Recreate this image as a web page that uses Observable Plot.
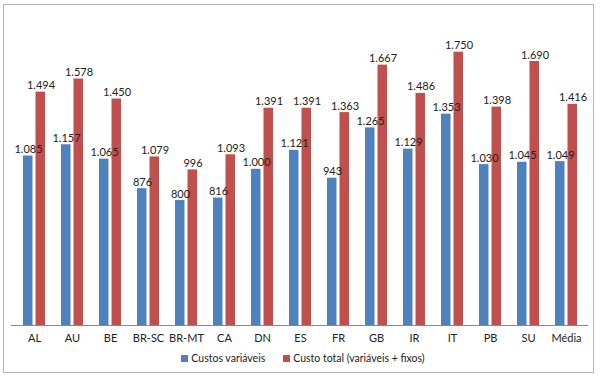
<!DOCTYPE html>
<html>
<head>
<meta charset="utf-8">
<script src="https://cdn.jsdelivr.net/npm/d3@7"></script>
<script src="https://cdn.jsdelivr.net/npm/@observablehq/plot@0.6"></script>
<style>
  html, body { margin: 0; padding: 0; background: #fff; }
  #wrap { position: relative; width: 600px; height: 377px; font-family: Lato, "Open Sans", sans-serif; }
  #frame { position: absolute; left: 3px; top: 4px; width: 589px; height: 367px; border: 1.5px solid #b5b5b5; box-sizing: content-box; }
  #chart { position: absolute; left: 0; top: 0; }
  #legend { position: absolute; left: 0; top: 352px; width: 606px; display: flex; justify-content: center; gap: 18px; font-size: 10.5px; color: #222; }
  #legend span.sw { display: inline-block; width: 7px; height: 7px; margin-right: 3px; vertical-align: 0px; }
</style>
</head>
<body>
<div id="wrap">
  <div id="frame"></div>
  <div id="chart"></div>
  <div id="legend"></div>
</div>
<script>
const categories = ["AL", "AU", "BE", "BR-SC", "BR-MT", "CA", "DN", "ES", "FR", "GB", "IR", "IT", "PB", "SU", "Média"];
const custosVariaveis = [1085, 1157, 1065, 876, 800, 816, 1000, 1121, 943, 1265, 1129, 1353, 1030, 1045, 1049];
const custoTotal = [1494, 1578, 1450, 1079, 996, 1093, 1391, 1391, 1363, 1667, 1486, 1750, 1398, 1690, 1416];
const seriesNames = ["Custos variáveis", "Custo total (variáveis + fixos)"];
const seriesColors = ["#4f81bd", "#c0504d"];

const fmt = d3.formatLocale({decimal: ",", thousands: ".", grouping: [3], currency: ["", ""]}).format(",");

const blue = categories.map((c, i) => ({cat: c, value: custosVariaveis[i]}));
const red = categories.map((c, i) => ({cat: c, value: custoTotal[i]}));

const plot = Plot.plot({
  width: 600,
  height: 350,
  marginLeft: 11,
  marginRight: 12,
  marginTop: 12.6,
  marginBottom: 25,
  style: {fontFamily: "Lato, 'Open Sans', sans-serif", fontSize: "11px", color: "#222", background: "transparent"},
  x: {domain: categories, padding: 0, label: null, tickSize: 0, tickPadding: 9},
  y: {domain: [0, 2000], axis: null},
  marks: [
    Plot.barY(blue, {x: "cat", y: "value", fill: seriesColors[0], insetLeft: 8, insetRight: 20.5}),
    Plot.barY(red, {x: "cat", y: "value", fill: seriesColors[1], insetLeft: 20.5, insetRight: 8}),
    Plot.text(blue, {x: "cat", y: "value", text: d => fmt(d.value), dx: -6, dy: -3, lineAnchor: "bottom", fill: "#222", fontSize: 11}),
    Plot.text(red, {x: "cat", y: "value", text: d => fmt(d.value), dx: 6.5, dy: -3, lineAnchor: "bottom", fill: "#222", fontSize: 11}),
    Plot.ruleY([0], {stroke: "#888", strokeWidth: 1})
  ]
});
document.getElementById("chart").appendChild(plot);

const legend = document.getElementById("legend");
seriesNames.forEach((name, i) => {
  const item = document.createElement("div");
  const sw = document.createElement("span");
  sw.className = "sw";
  sw.style.background = seriesColors[i];
  item.appendChild(sw);
  item.appendChild(document.createTextNode(name));
  legend.appendChild(item);
});
</script>
</body>
</html>
